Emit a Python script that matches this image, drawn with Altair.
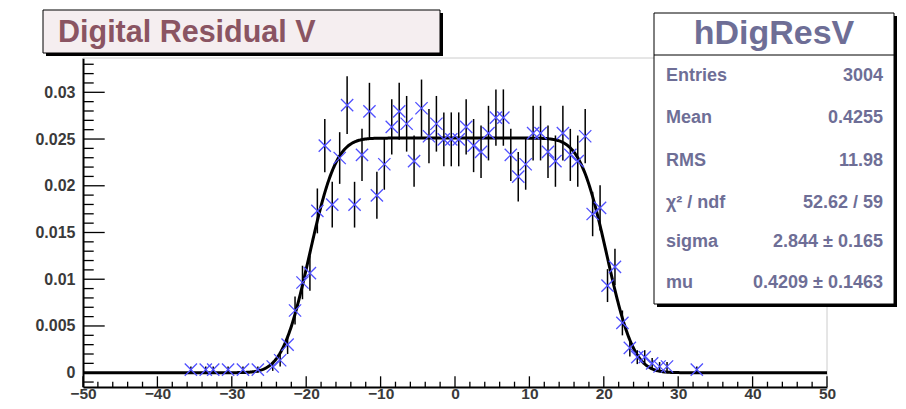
import math
import altair as alt
import pandas as pd

# ---------------- data ----------------
ENTRIES = 3004
bin_centers = [-35.5, -33.5, -32.5, -30.5, -28.5, -26.5, -24.5, -23.5, -22.5, -21.5,
               -20.5, -19.5, -18.5, -17.5, -16.5, -15.5, -14.5, -13.5, -12.5, -11.5,
               -10.5, -9.5, -8.5, -7.5, -6.5, -5.5, -4.5, -3.5, -2.5, -1.5,
               -0.5, 0.5, 1.5, 2.5, 3.5, 4.5, 5.5, 6.5, 7.5, 8.5,
               9.5, 10.5, 11.5, 12.5, 13.5, 14.5, 15.5, 16.5, 17.5, 18.5,
               19.5, 20.5, 21.5, 22.5, 23.5, 24.5, 25.5, 26.5, 27.5, 28.5,
               32.5]
bin_counts = [1, 1, 1, 1, 1, 1, 2, 4, 9, 20,
              29, 32, 52, 73, 54, 69, 86, 54, 70, 84,
              57, 67, 79, 84, 80, 68, 85, 76, 80, 75,
              75, 75, 79, 73, 71, 77, 82, 82, 70, 63,
              67, 77, 77, 71, 68, 77, 70, 68, 76, 51,
              53, 28, 34, 16, 8, 5, 5, 3, 2, 2,
              1]

# fit parameters (from the stats box / read plateau)
fit_sigma = 2.844
fit_mu = 0.4209
fit_plateau = 0.0251
fit_half_width = 20.0

x_major = [-50, -40, -30, -20, -10, 0, 10, 20, 30, 40, 50]
x_minor = [v for v in range(-48, 50, 2) if v % 10 != 0]
y_major = [0, 0.005, 0.01, 0.015, 0.02, 0.025, 0.03]
y_minor = [k / 1000 for k in range(-1, 34) if k % 5 != 0]

title_text = "Digital Residual V"
stats_title = "hDigResV"
stats_labels = ["Entries", "Mean", "RMS", "χ² / ndf", "sigma", "mu"]
stats_values = ["3004", "0.4255", "11.98", "52.62 / 59", "2.844 ± 0.165", "0.4209 ± 0.1463"]

# ---------------- tables ----------------
pts = pd.DataFrame({
    "x": bin_centers,
    "y": [c / ENTRIES for c in bin_counts],
    "lo": [(c - math.sqrt(c)) / ENTRIES for c in bin_counts],
    "hi": [(c + math.sqrt(c)) / ENTRIES for c in bin_counts],
})

s2 = fit_sigma * math.sqrt(2)
cx = [-50 + 0.1 * i for i in range(1001)]
curve = pd.DataFrame({
    "x": cx,
    "y": [fit_plateau / 2 * (math.erf((x - (fit_mu - fit_half_width)) / s2)
                             - math.erf((x - (fit_mu + fit_half_width)) / s2)) for x in cx],
})

W, H = 744, 329
FONT = "Liberation Sans"
LABEL_COLOR = "#3a3a3a"
STAT_COLOR = "#6e6e96"

xs = alt.Scale(domain=[-50, 50], nice=False, zero=False)
ys = alt.Scale(domain=[-0.00153, 0.03367], nice=False, zero=False)

xaxis = alt.Axis(values=x_major, format="d", ticks=False, grid=False, domainColor="black",
                 domainWidth=2, labelFont=FONT, labelFontSize=15.5, labelFontWeight="bold",
                 labelColor=LABEL_COLOR, labelPadding=-1, title=None, labelFlush=False)
yaxis = alt.Axis(values=y_major, format="~g", ticks=False, grid=False, domainColor="black",
                 domainWidth=2, labelFont=FONT, labelFontSize=16, labelFontWeight="bold",
                 labelColor=LABEL_COLOR, labelPadding=8, title=None, labelFlush=False)

X = alt.X("x:Q", scale=xs, axis=xaxis)
Y = alt.Y("y:Q", scale=ys, axis=yaxis)

one = alt.Data(values=[{"k": 1}])

frame_top = alt.Chart(one).mark_rule(color="#cccccc", strokeWidth=1).encode(
    x=alt.value(0), x2=alt.value(W), y=alt.value(0))
frame_right = alt.Chart(one).mark_rule(color="#cccccc", strokeWidth=1).encode(
    x=alt.value(W), y=alt.value(0), y2=alt.value(H))

xt_major = alt.Chart(pd.DataFrame({"x": x_major})).mark_rule(color="black", strokeWidth=1.3).encode(
    x=X, y=alt.value(H), y2=alt.value(H - 10.7))
xt_minor = alt.Chart(pd.DataFrame({"x": x_minor})).mark_rule(color="black", strokeWidth=1.3).encode(
    x=X, y=alt.value(H), y2=alt.value(H - 5.3))
yt_major = alt.Chart(pd.DataFrame({"y": y_major})).mark_rule(color="black", strokeWidth=1.3).encode(
    y=Y, x=alt.value(0), x2=alt.value(21.7))
yt_minor = alt.Chart(pd.DataFrame({"y": y_minor})).mark_rule(color="black", strokeWidth=1.3).encode(
    y=Y, x=alt.value(0), x2=alt.value(10.7))

err = alt.Chart(pts).mark_rule(color="black", strokeWidth=1.5).encode(
    x=X, y=alt.Y("lo:Q", scale=ys, axis=yaxis), y2="hi:Q")
fit = alt.Chart(curve).mark_line(color="black", strokeWidth=3).encode(x=X, y=Y)
marks = alt.Chart(pts).mark_point(shape="M-1,-1L1,1M-1,1L1,-1", filled=False, color="#5050ff",
                                  strokeWidth=1.3, size=150, opacity=1).encode(x=X, y=Y)

# title box
tb_shadow = alt.Chart(one).mark_rect(fill="black").encode(
    x=alt.value(-37), x2=alt.value(360), y=alt.value(-45), y2=alt.value(-2))
tb_box = alt.Chart(one).mark_rect(fill="#f5eef0", stroke="black", strokeWidth=1).encode(
    x=alt.value(-40), x2=alt.value(357), y=alt.value(-48), y2=alt.value(-5))
tb_text = alt.Chart(alt.Data(values=[{"t": title_text}])).mark_text(
    align="left", baseline="middle", font=FONT, fontSize=30.5, fontWeight="bold",
    color="#8a5462").encode(x=alt.value(-25), y=alt.value(-25), text="t:N")

# stats box
sb_l, sb_r, sb_t, sb_b = 571, 811, -45, 246
sb_shadow = alt.Chart(one).mark_rect(fill="black").encode(
    x=alt.value(sb_l + 3), x2=alt.value(sb_r + 3), y=alt.value(sb_t + 3), y2=alt.value(sb_b + 3))
sb_box = alt.Chart(one).mark_rect(fill="white", stroke="black", strokeWidth=1).encode(
    x=alt.value(sb_l), x2=alt.value(sb_r), y=alt.value(sb_t), y2=alt.value(sb_b))
sb_line = alt.Chart(one).mark_rule(color="black", strokeWidth=1).encode(
    x=alt.value(sb_l), x2=alt.value(sb_r), y=alt.value(-3))
sb_title = alt.Chart(alt.Data(values=[{"t": stats_title}])).mark_text(
    align="center", baseline="middle", font=FONT, fontSize=34, fontWeight="bold",
    color=STAT_COLOR).encode(x=alt.value((sb_l + sb_r) / 2), y=alt.value(-24), text="t:N")

row_y = [18, 60.3, 102.7, 144.7, 184.3, 225.3]
stat_layers = []
for lab, val, yy in zip(stats_labels, stats_values, row_y):
    stat_layers.append(alt.Chart(alt.Data(values=[{"t": lab}])).mark_text(
        align="left", baseline="middle", font=FONT, fontSize=18, fontWeight="bold",
        color=STAT_COLOR).encode(x=alt.value(sb_l + 12), y=alt.value(yy), text="t:N"))
    stat_layers.append(alt.Chart(alt.Data(values=[{"t": val}])).mark_text(
        align="right", baseline="middle", font=FONT, fontSize=18, fontWeight="bold",
        color=STAT_COLOR).encode(x=alt.value(sb_r - 11), y=alt.value(yy), text="t:N"))

chart = alt.layer(
    frame_top, frame_right, xt_major, xt_minor, yt_major, yt_minor,
    err, fit, marks,
    tb_shadow, tb_box, tb_text,
    sb_shadow, sb_box, sb_line, sb_title, *stat_layers,
).properties(
    width=W, height=H,
    padding={"left": 75, "top": 50, "right": 70, "bottom": 14},
    autosize=alt.AutoSizeParams(type="none"),
    background="white",
).configure_view(stroke=None)

chart.save("out.html", embed_options={"renderer": "svg", "actions": False})
